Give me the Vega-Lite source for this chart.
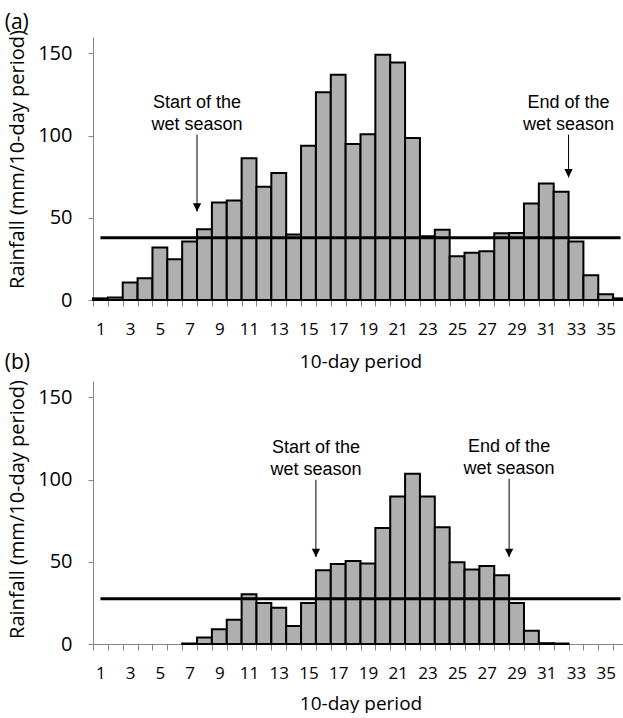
{
  "$schema": "https://vega.github.io/schema/vega-lite/v6.json",
  "background": "white",
  "padding": {"left": 4, "top": 11, "right": 0, "bottom": 0},
  "bounds": "flush",
  "spacing": 81,
  "config": {
    "view": {"stroke": null},
    "font": "Open Sans",
    "title": {"fontSize": 21, "fontWeight": "normal", "color": "black", "anchor": "start", "frame": "bounds", "dx": -3},
    "axisY": {"grid": false, "domainColor": "#868686", "tickColor": "#868686", "tickSize": 5, "labelFontSize": 20, "labelColor": "black", "labelPadding": 16, "titleFontSize": 20, "titleFontWeight": "normal", "titleColor": "black", "titlePadding": 10},
    "axisX": {"grid": false, "domainColor": "#868686", "tickColor": "#868686", "tickSize": 6, "labelFontSize": 17, "labelColor": "black", "labelAngle": 0, "labelPadding": 15, "titleFontSize": 19, "titleFontWeight": "normal", "titleColor": "black", "titlePadding": 15, "tickBand": "extent", "labelExpr": "datum.value % 2 == 1 ? datum.label : ''"}
  },
  "datasets": {
    "rain_a": [
      {"period": 1, "rainfall": 1.0}, {"period": 2, "rainfall": 1.5}, {"period": 3, "rainfall": 10.6}, {"period": 4, "rainfall": 13.2},
      {"period": 5, "rainfall": 31.9}, {"period": 6, "rainfall": 24.8}, {"period": 7, "rainfall": 35.6}, {"period": 8, "rainfall": 43.1},
      {"period": 9, "rainfall": 59.3}, {"period": 10, "rainfall": 60.6}, {"period": 11, "rainfall": 86.2}, {"period": 12, "rainfall": 68.9},
      {"period": 13, "rainfall": 77.2}, {"period": 14, "rainfall": 39.8}, {"period": 15, "rainfall": 93.9}, {"period": 16, "rainfall": 126.4},
      {"period": 17, "rainfall": 137.0}, {"period": 18, "rainfall": 94.9}, {"period": 19, "rainfall": 100.8}, {"period": 20, "rainfall": 149.2},
      {"period": 21, "rainfall": 144.5}, {"period": 22, "rainfall": 98.6}, {"period": 23, "rainfall": 38.8}, {"period": 24, "rainfall": 42.7},
      {"period": 25, "rainfall": 26.6}, {"period": 26, "rainfall": 28.7}, {"period": 27, "rainfall": 29.7}, {"period": 28, "rainfall": 40.6},
      {"period": 29, "rainfall": 40.8}, {"period": 30, "rainfall": 58.7}, {"period": 31, "rainfall": 70.9}, {"period": 32, "rainfall": 65.9},
      {"period": 33, "rainfall": 35.6}, {"period": 34, "rainfall": 15.0}, {"period": 35, "rainfall": 3.5}, {"period": 36, "rainfall": 1.0}
    ],
    "thr_a": [{"from": 1, "to": 36, "threshold": 37.8}],
    "ann_a": [
      {"period": 8, "top": 100.6, "tip": 53.8, "label": "Start of the\nwet season"},
      {"period": 33, "top": 100.6, "tip": 74.6, "label": "End of the\nwet season"}
    ],
    "rain_b": [
      {"period": 7, "rainfall": 0.3}, {"period": 8, "rainfall": 4.0},
      {"period": 9, "rainfall": 8.9}, {"period": 10, "rainfall": 14.7}, {"period": 11, "rainfall": 30.3}, {"period": 12, "rainfall": 25.0},
      {"period": 13, "rainfall": 22.0}, {"period": 14, "rainfall": 10.9}, {"period": 15, "rainfall": 24.9}, {"period": 16, "rainfall": 44.9},
      {"period": 17, "rainfall": 48.7}, {"period": 18, "rainfall": 50.5}, {"period": 19, "rainfall": 48.9}, {"period": 20, "rainfall": 70.5},
      {"period": 21, "rainfall": 89.8}, {"period": 22, "rainfall": 103.5}, {"period": 23, "rainfall": 89.8}, {"period": 24, "rainfall": 71.1},
      {"period": 25, "rainfall": 49.7}, {"period": 26, "rainfall": 45.3}, {"period": 27, "rainfall": 47.5}, {"period": 28, "rainfall": 41.8},
      {"period": 29, "rainfall": 24.9}, {"period": 30, "rainfall": 8.1}, {"period": 31, "rainfall": 0.5}, {"period": 32, "rainfall": 0.3}
    ],
    "thr_b": [{"from": 1, "to": 36, "threshold": 27.5}],
    "ann_b": [
      {"period": 16, "top": 99.9, "tip": 52.9, "label": "Start of the\nwet season"},
      {"period": 29, "top": 100.5, "tip": 52.9, "label": "End of the\nwet season"}
    ]
  },
  "vconcat": [
    {
      "width": 535,
      "height": 263,
      "title": {"text": "(a)", "offset": -3},
      "layer": [
        {
          "data": {"name": "rain_a"},
          "mark": {"type": "bar", "fill": "#afafaf", "stroke": "black", "strokeWidth": 2},
          "encoding": {
            "x": {"field": "period", "type": "ordinal", "title": "10-day period", "scale": {"domain": [1,2,3,4,5,6,7,8,9,10,11,12,13,14,15,16,17,18,19,20,21,22,23,24,25,26,27,28,29,30,31,32,33,34,35,36], "paddingInner": 0, "paddingOuter": 0}},
            "y": {"field": "rainfall", "type": "quantitative", "title": "Rainfall (mm/10-day period)", "scale": {"domain": [0, 160], "nice": false}, "axis": {"values": [0, 50, 100, 150], "titleY": 122}}
          }
        },
        {
          "data": {"name": "thr_a"},
          "mark": {"type": "rule", "color": "black", "strokeWidth": 3},
          "encoding": {
            "x": {"field": "from", "type": "ordinal"},
            "x2": {"field": "to"},
            "y": {"field": "threshold", "type": "quantitative"}
          }
        },
        {
          "data": {"name": "ann_a"},
          "mark": {"type": "rule", "color": "black", "strokeWidth": 1},
          "encoding": {
            "x": {"field": "period", "type": "ordinal", "bandPosition": 0},
            "y": {"field": "top", "type": "quantitative"},
            "y2": {"field": "tip"}
          }
        },
        {
          "data": {"name": "ann_a"},
          "mark": {"type": "point", "shape": "M-1,-2L1,-2L0,0Z", "size": 69, "filled": true, "color": "black", "opacity": 1, "strokeWidth": 0},
          "encoding": {
            "x": {"field": "period", "type": "ordinal", "bandPosition": 0},
            "y": {"field": "tip", "type": "quantitative"}
          }
        },
        {
          "data": {"name": "ann_a"},
          "mark": {"type": "text", "font": "Liberation Sans", "fontSize": 18, "lineBreak": "\n", "lineHeight": 21.7, "baseline": "alphabetic", "align": "center", "dy": -26.7, "color": "black"},
          "encoding": {
            "x": {"field": "period", "type": "ordinal", "bandPosition": 0},
            "y": {"field": "top", "type": "quantitative"},
            "text": {"field": "label"}
          }
        }
      ]
    },
    {
      "width": 535,
      "height": 263,
      "title": {"text": "(b)", "offset": 3, "dy": -4},
      "layer": [
        {
          "data": {"name": "rain_b"},
          "mark": {"type": "bar", "fill": "#afafaf", "stroke": "black", "strokeWidth": 2},
          "encoding": {
            "x": {"field": "period", "type": "ordinal", "title": "10-day period", "scale": {"domain": [1,2,3,4,5,6,7,8,9,10,11,12,13,14,15,16,17,18,19,20,21,22,23,24,25,26,27,28,29,30,31,32,33,34,35,36], "paddingInner": 0, "paddingOuter": 0}, "axis": {"titlePadding": 13}},
            "y": {"field": "rainfall", "type": "quantitative", "title": "Rainfall (mm/10-day period)", "scale": {"domain": [0, 160], "nice": false}, "axis": {"values": [0, 50, 100, 150], "titleY": 128}}
          }
        },
        {
          "data": {"name": "thr_b"},
          "mark": {"type": "rule", "color": "black", "strokeWidth": 3},
          "encoding": {
            "x": {"field": "from", "type": "ordinal"},
            "x2": {"field": "to"},
            "y": {"field": "threshold", "type": "quantitative"}
          }
        },
        {
          "data": {"name": "ann_b"},
          "mark": {"type": "rule", "color": "black", "strokeWidth": 1},
          "encoding": {
            "x": {"field": "period", "type": "ordinal", "bandPosition": 0},
            "y": {"field": "top", "type": "quantitative"},
            "y2": {"field": "tip"}
          }
        },
        {
          "data": {"name": "ann_b"},
          "mark": {"type": "point", "shape": "M-1,-2L1,-2L0,0Z", "size": 69, "filled": true, "color": "black", "opacity": 1, "strokeWidth": 0},
          "encoding": {
            "x": {"field": "period", "type": "ordinal", "bandPosition": 0},
            "y": {"field": "tip", "type": "quantitative"}
          }
        },
        {
          "data": {"name": "ann_b"},
          "mark": {"type": "text", "font": "Liberation Sans", "fontSize": 18, "lineBreak": "\n", "lineHeight": 21.7, "baseline": "alphabetic", "align": "center", "dy": -26.7, "color": "black"},
          "encoding": {
            "x": {"field": "period", "type": "ordinal", "bandPosition": 0},
            "y": {"field": "top", "type": "quantitative"},
            "text": {"field": "label"}
          }
        }
      ]
    }
  ]
}
